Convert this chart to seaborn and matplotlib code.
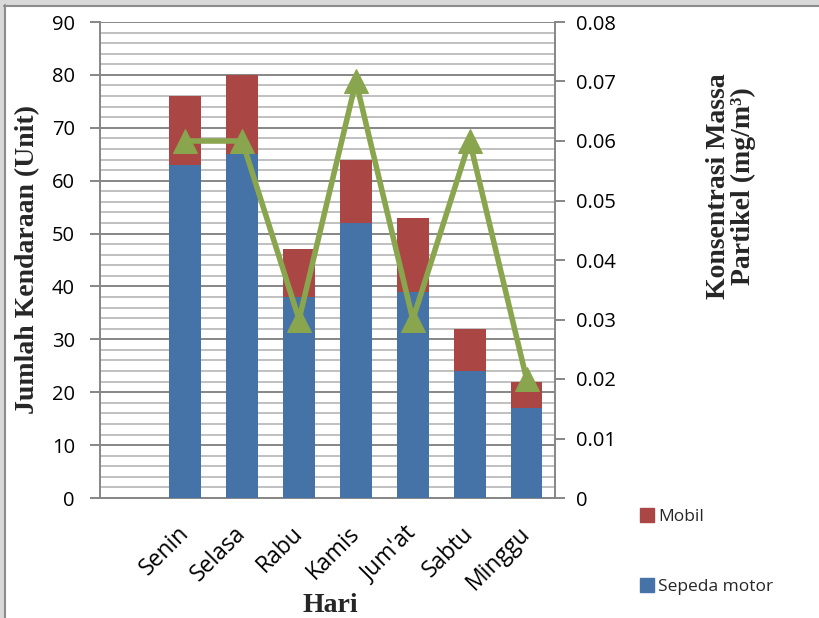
import numpy as np
import pandas as pd
import matplotlib
matplotlib.use("Agg")
import matplotlib.pyplot as plt
from matplotlib.patches import Rectangle
from matplotlib.lines import Line2D
import seaborn as sns

# ---------------- data ----------------
hari = ["Senin", "Selasa", "Rabu", "Kamis", "Jum'at", "Sabtu", "Minggu"]
sepeda_motor = [63, 65, 38, 52, 39, 24, 17]
mobil = [13, 15, 9, 12, 14, 8, 5]
konsentrasi = [0.06, 0.06, 0.03, 0.07, 0.03, 0.06, 0.02]
order = [" "] + hari  # first slot left empty as in reference

c_blue = "#4572A7"
c_red = "#AA4643"
c_green = "#89A54E"

sns.set_theme(style="white")
plt.rcParams["font.family"] = ["Open Sans", "DejaVu Sans"]

df = pd.DataFrame({"hari": hari,
                   "motor": sepeda_motor,
                   "total": np.array(sepeda_motor) + np.array(mobil)})

fig = plt.figure(figsize=(8.2, 6.18), dpi=100)
ax = fig.add_axes([100 / 820, 1 - 498 / 618, 455 / 820, 476 / 618])

sns.barplot(data=df, x="hari", y="total", order=order, color=c_red,
            width=0.56, saturation=1, ax=ax, zorder=3)
sns.barplot(data=df, x="hari", y="motor", order=order, color=c_blue,
            width=0.56, saturation=1, ax=ax, zorder=3)
for p in ax.patches:
    p.set_edgecolor("none")

ax.set_xlim(-0.5, len(order) - 0.5)
ax.set_ylim(0, 90)
ax.set_yticks(np.arange(0, 91, 10))
ax.set_yticks(np.arange(0, 91, 2), minor=True)
ax.grid(axis="y", which="major", color="#868686", linewidth=1.4, zorder=0)
ax.grid(axis="y", which="minor", color="#C0C0C0", linewidth=1.4, zorder=0)
ax.set_axisbelow(True)
for side in ["left", "right", "bottom"]:
    ax.spines[side].set_visible(True)
    ax.spines[side].set_color("#868686")
    ax.spines[side].set_linewidth(1.4)
ax.spines["top"].set_visible(False)

ax.tick_params(axis="y", which="major", direction="out", length=7, width=1.4,
               color="#868686", left=True, right=False, labelsize=14.5, pad=11,
               labelcolor="black")
ax.tick_params(axis="y", which="minor", left=False, right=False, length=0, width=0)
ax.tick_params(axis="x", bottom=False, labelsize=16.5, pad=17, labelcolor="black")
ax.set_xticks(range(len(order)))
ax.set_xticklabels(order, rotation=45, ha="right", va="center",
                   rotation_mode="anchor")
ax.set_xlabel("")
ax.set_ylabel("")

# secondary axis with line
ax2 = ax.twinx()
pos = np.arange(1, len(hari) + 1)
sns.lineplot(x=pos, y=konsentrasi, ax=ax2, color=c_green, linewidth=4,
             marker="^", markersize=17, markeredgecolor=c_green, zorder=5)
ax2.set_ylim(0, 0.08)
ax2.set_yticks(np.arange(0, 0.081, 0.01))
ax2.set_yticks([], minor=True)
ax2.set_yticklabels(["0"] + [f"{v:.2f}" for v in np.arange(0.01, 0.081, 0.01)])
ax2.tick_params(axis="y", direction="out", length=7, width=1.4, color="#868686",
                right=True, labelsize=14.5, pad=8, labelcolor="black")
for s in ax2.spines.values():
    s.set_visible(False)
ax2.grid(False)
ax2.set_ylabel("")

# axis titles
serif = ["Liberation Serif", "DejaVu Serif"]
fig.text(28 / 820, 1 - 260 / 618, "Jumlah Kendaraan (Unit)", rotation=90,
         ha="center", va="center", fontsize=20, fontweight="bold", family=serif)
fig.text(330 / 820, 1 - 606 / 618, "Hari", ha="center", va="center",
         fontsize=20, fontweight="bold", family=serif)
fig.text(731 / 820, 1 - 186 / 618, "Konsentrasi Massa\nPartikel (mg/m³)",
         rotation=90, ha="center", va="center", multialignment="center",
         fontsize=20, fontweight="bold", family=serif, linespacing=1.0)

# legend
handles = [Line2D([], [], marker="s", linestyle="none", markersize=10,
                  markerfacecolor=c_red, markeredgecolor=c_red),
           Line2D([], [], marker="s", linestyle="none", markersize=10,
                  markerfacecolor=c_blue, markeredgecolor=c_blue)]
fig.legend(handles, ["Mobil", "Sepeda motor"], loc="upper left",
           bbox_to_anchor=(634 / 820, 1 - 502 / 618), frameon=False,
           fontsize=12.5, labelspacing=3.1, handlelength=0.7, handletextpad=0.3,
           borderaxespad=0)

# outer frame (gray band at top and left)
fig.add_artist(Rectangle((0, 1 - 5 / 618), 1, 5 / 618, transform=fig.transFigure,
                         facecolor="#D9D9D9", edgecolor="none", zorder=10))
fig.add_artist(Rectangle((0, 0), 4 / 820, 1, transform=fig.transFigure,
                         facecolor="#D9D9D9", edgecolor="none", zorder=10))
fig.add_artist(Line2D([4 / 820, 1], [1 - 5.5 / 618, 1 - 5.5 / 618],
                      transform=fig.transFigure, color="#8C8C8C", linewidth=1.5, zorder=11))
fig.add_artist(Line2D([5 / 820, 5 / 820], [0, 1 - 5 / 618],
                      transform=fig.transFigure, color="#8C8C8C", linewidth=1.5, zorder=11))

fig.savefig("out.png", dpi=100)
